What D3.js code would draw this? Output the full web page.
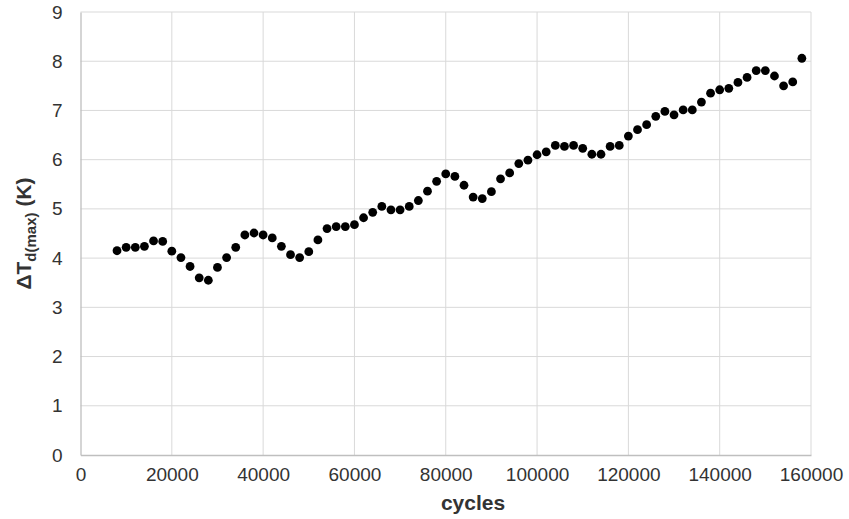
<!DOCTYPE html>
<html>
<head>
<meta charset="utf-8">
<script src="https://cdn.jsdelivr.net/npm/d3@7"></script>
<style>
  body { margin: 0; background: #fff; }
  svg { display: block; font-family: "Liberation Sans", Arial, sans-serif; }
</style>
</head>
<body>
<div id="chart"></div>
<script>
// Cycle counts (every 2000 cycles from 8000 to 158000)
const cycles = [
  8000, 10000, 12000, 14000, 16000, 18000, 20000, 22000, 24000, 26000,
  28000, 30000, 32000, 34000, 36000, 38000, 40000, 42000, 44000, 46000,
  48000, 50000, 52000, 54000, 56000, 58000, 60000, 62000, 64000, 66000,
  68000, 70000, 72000, 74000, 76000, 78000, 80000, 82000, 84000, 86000,
  88000, 90000, 92000, 94000, 96000, 98000, 100000, 102000, 104000, 106000,
  108000, 110000, 112000, 114000, 116000, 118000, 120000, 122000, 124000, 126000,
  128000, 130000, 132000, 134000, 136000, 138000, 140000, 142000, 144000, 146000,
  148000, 150000, 152000, 154000, 156000, 158000
];

// Delta T d(max) in K
const deltaT = [
  4.15, 4.22, 4.22, 4.24, 4.35, 4.34, 4.14, 4.01, 3.83, 3.60,
  3.55, 3.81, 4.01, 4.22, 4.47, 4.51, 4.47, 4.41, 4.24, 4.07,
  4.01, 4.13, 4.37, 4.60, 4.64, 4.64, 4.68, 4.82, 4.93, 5.05,
  4.98, 4.98, 5.05, 5.17, 5.36, 5.56, 5.71, 5.66, 5.48, 5.24,
  5.21, 5.35, 5.61, 5.73, 5.92, 5.99, 6.10, 6.16, 6.29, 6.27,
  6.29, 6.23, 6.11, 6.11, 6.27, 6.29, 6.48, 6.61, 6.71, 6.88,
  6.98, 6.91, 7.01, 7.01, 7.17, 7.35, 7.42, 7.45, 7.57, 7.67,
  7.81, 7.81, 7.70, 7.50, 7.58, 8.06
];

const xTicks = [0, 20000, 40000, 60000, 80000, 100000, 120000, 140000, 160000];
const yTicks = [0, 1, 2, 3, 4, 5, 6, 7, 8, 9];

const width = 849, height = 519;
const margin = { top: 12, right: 38, bottom: 64, left: 80.5 };

const svg = d3.select('#chart')
  .append('svg')
  .attr('width', width)
  .attr('height', height);

const x = d3.scaleLinear()
  .domain([0, 160000])
  .range([margin.left, width - margin.right]);

const y = d3.scaleLinear()
  .domain([0, 9])
  .range([height - margin.bottom, margin.top]);

// Gridlines
svg.append('g')
  .selectAll('line.vgrid')
  .data(xTicks.slice(1))
  .join('line')
  .attr('x1', d => x(d)).attr('x2', d => x(d))
  .attr('y1', y(0)).attr('y2', y(9))
  .attr('stroke', '#d9d9d9')
  .attr('stroke-width', 1);

svg.append('g')
  .selectAll('line.hgrid')
  .data(yTicks.slice(1))
  .join('line')
  .attr('x1', x(0)).attr('x2', x(160000))
  .attr('y1', d => y(d)).attr('y2', d => y(d))
  .attr('stroke', '#d9d9d9')
  .attr('stroke-width', 1);

// Axes
const xAxis = svg.append('g')
  .attr('transform', `translate(0,${y(0)})`)
  .call(d3.axisBottom(x).tickValues(xTicks).tickFormat(d3.format('d')).tickSize(0).tickPadding(13));

const yAxis = svg.append('g')
  .attr('transform', `translate(${x(0)},0)`)
  .call(d3.axisLeft(y).tickValues(yTicks).tickFormat(d3.format('d')).tickSize(0).tickPadding(18));

[xAxis, yAxis].forEach(a => {
  a.select('.domain').attr('stroke', '#bfbfbf').attr('stroke-width', 1.3);
  a.selectAll('text')
    .attr('font-size', 19)
    .attr('fill', '#333')
    .attr('font-family', '"Liberation Sans", Arial, sans-serif');
});

// Points
svg.append('g')
  .selectAll('circle')
  .data(cycles.map((c, i) => [c, deltaT[i]]))
  .join('circle')
  .attr('cx', d => x(d[0]))
  .attr('cy', d => y(d[1]))
  .attr('r', 4.4)
  .attr('fill', '#000');

// Axis titles
svg.append('text')
  .attr('x', 473)
  .attr('y', 510)
  .attr('text-anchor', 'middle')
  .attr('font-size', 21)
  .attr('font-weight', 'bold')
  .attr('fill', '#333')
  .text('cycles');

const yTitle = svg.append('text')
  .attr('transform', `translate(31,${(y(0) + y(9)) / 2}) rotate(-90)`)
  .attr('text-anchor', 'middle')
  .attr('font-size', 21)
  .attr('font-weight', 'bold')
  .attr('fill', '#333');
yTitle.append('tspan').text('\u0394T');
yTitle.append('tspan').attr('font-size', 15).attr('dy', 5).text('d(max)');
yTitle.append('tspan').attr('dy', -5).text(' (K)');
</script>
</body>
</html>
